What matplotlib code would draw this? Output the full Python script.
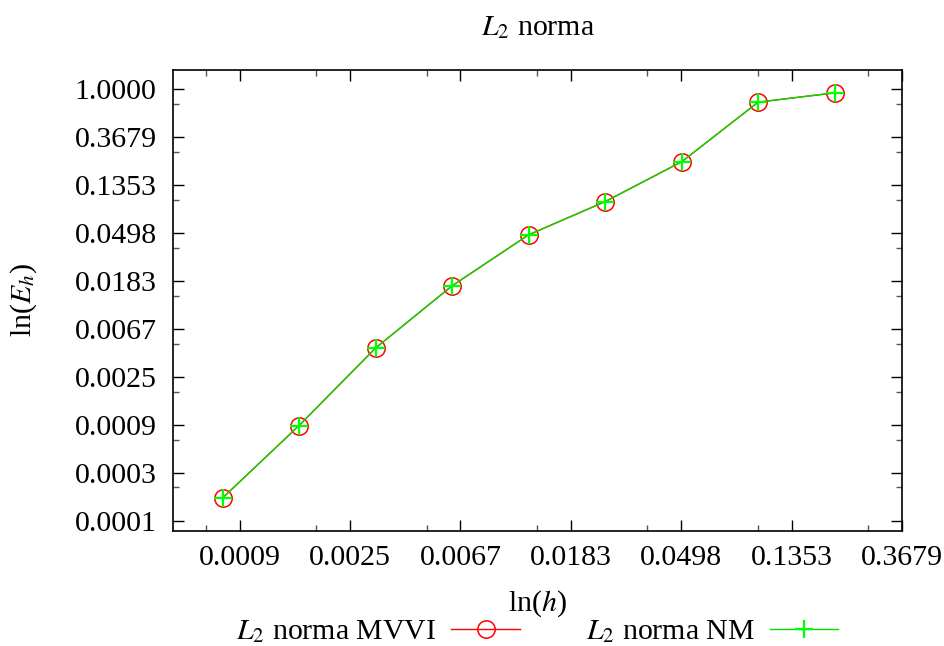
import numpy as np
import matplotlib
matplotlib.use("Agg")
import matplotlib.pyplot as plt
from matplotlib.ticker import FixedLocator, NullFormatter

plt.rcParams['font.family'] = ['Liberation Serif', 'DejaVu Serif']
plt.rcParams['mathtext.fontset'] = 'stix'

# data
h = [0.00078125, 0.0015625, 0.003125, 0.00625, 0.0125, 0.025, 0.05, 0.1, 0.2]
err_mvvi = [0.000198, 0.000898, 0.00453, 0.0166, 0.0481, 0.0962, 0.221, 0.767, 0.931]
err_nm = [0.000198, 0.000898, 0.00453, 0.0166, 0.0481, 0.0962, 0.221, 0.767, 0.931]

x_tick_exps = [-7, -6, -5, -4, -3, -2, -1]
y_tick_exps = [-9, -8, -7, -6, -5, -4, -3, -2, -1, 0]

fs = 21.5
W, H = 944, 646
fig = plt.figure(figsize=(W / 100, H / 100), dpi=100)
l, r, t, b = 173.3, 902.0, 70.0, 530.7
ax = fig.add_axes([l / W, 1 - b / H, (r - l) / W, (b - t) / H])

ax.plot(h, err_mvvi, color='#ff0000', lw=1.0, marker='o', ms=12.5, mfc='none',
        mec='#ff0000', mew=1.1, label=r'$L_2$ norma MVVI')
ax.plot(h, err_nm, color='#00e000', lw=1.0, marker='+', ms=12.5,
        mec='#00ff00', mew=1.6, label=r'$L_2$ norma NM')

ax.set_xscale('log', base=np.e)
ax.set_yscale('log', base=np.e)
ax.set_xlim(0.0005, np.exp(-1))
ax.set_ylim(0.0001, 1.5)

xt = [np.exp(k) for k in x_tick_exps]
yt = [np.exp(k) for k in y_tick_exps]
ax.xaxis.set_major_locator(FixedLocator(xt))
ax.yaxis.set_major_locator(FixedLocator(yt))
ax.set_xticklabels(['%.4f' % v for v in xt])
ax.set_yticklabels(['%.4f' % v for v in yt])
ax.xaxis.set_minor_locator(FixedLocator([2 * np.exp(k - 1) for k in range(-8, 1)]))
ax.yaxis.set_minor_locator(FixedLocator([2 * np.exp(k - 1) for k in range(-9, 2)]))
ax.xaxis.set_minor_formatter(NullFormatter())
ax.yaxis.set_minor_formatter(NullFormatter())

ax.tick_params(which='both', direction='in', top=True, right=True, labelsize=fs)
ax.tick_params(which='major', length=8, width=1.0)
ax.tick_params(which='minor', length=4, width=1.0, color='#555555')
ax.tick_params(axis='x', which='major', pad=10)
ax.tick_params(axis='y', which='major', pad=12)
for s in ax.spines.values():
    s.set_linewidth(1.2)

fig.text((l + r) / 2 / W, 1 - 28 / H, r'$L_2$ norma', ha='center', va='center', fontsize=fs)
fig.text((l + r) / 2 / W, 1 - 604 / H, r'ln($h$)', ha='center', va='center', fontsize=fs)
fig.text(23.5 / W, 1 - 300 / H, r'ln($E_h$)', ha='center', va='center', fontsize=fs, rotation=90)

leg = fig.legend(loc='center', bbox_to_anchor=(537 / W, 1 - 632 / H), ncol=2,
                 markerfirst=False, frameon=False, fontsize=fs, handlelength=2.3,
                 columnspacing=2.2, handletextpad=0.5, borderaxespad=0)

fig.savefig('out.png', dpi=100)
